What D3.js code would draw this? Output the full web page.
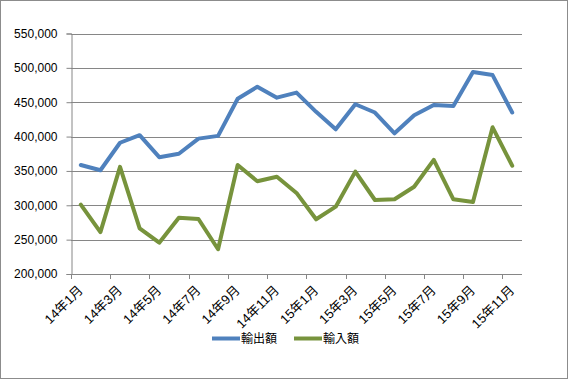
<!DOCTYPE html>
<html><head><meta charset="utf-8">
<script src="https://cdn.jsdelivr.net/npm/d3@7"></script>
<style>
html,body{margin:0;padding:0;background:#fff;}
svg{display:block;}
text{font-family:"Liberation Sans","Noto Sans CJK JP",sans-serif;fill:#000;}
</style></head>
<body>
<svg id="c" width="568" height="379"></svg>
<script>
const categories = ["14年1月","14年2月","14年3月","14年4月","14年5月","14年6月","14年7月","14年8月","14年9月","14年10月","14年11月","14年12月",
  "15年1月","15年2月","15年3月","15年4月","15年5月","15年6月","15年7月","15年8月","15年9月","15年10月","15年11月"];
const exportsVal = [358600,351000,391000,402000,370000,375000,397000,401000,455000,472500,456600,464000,
  436000,410500,447000,435000,404700,431000,446000,444500,494000,489500,435000];
const importsVal = [301000,261000,356000,266500,245500,282000,280000,236000,358600,335000,341600,318000,
  279600,298000,349000,307700,308700,327000,366000,308700,304800,413500,357600];
const yTicks = [200000,250000,300000,350000,400000,450000,500000,550000];
const seriesNames = ["輸出額","輸入額"];
const colors = ["#4F81BD","#77933C"];

const svg = d3.select("#c");
svg.append("rect").attr("x",0.5).attr("y",0.5).attr("width",567).attr("height",378)
  .attr("fill","#fff").attr("stroke","#8c8c8c");

const x = d3.scaleBand().domain(categories).range([71,522]);
const y = d3.scaleLinear().domain([200000,550000]).range([274,33.5]);

// gridlines
svg.append("g").selectAll("line").data(yTicks.slice(1)).join("line")
  .attr("x1",71).attr("x2",522)
  .attr("y1",d=>Math.round(y(d))+0.5).attr("y2",d=>Math.round(y(d))+0.5)
  .attr("stroke","#868686").attr("stroke-width",1);

// y axis
const ya = svg.append("g").attr("transform","translate(71.5,0)")
  .call(d3.axisLeft(y).tickValues(yTicks).tickSize(5).tickPadding(9).tickFormat(d3.format(",")));
ya.select(".domain").attr("stroke","#868686");
ya.selectAll(".tick line").attr("stroke","#868686");
ya.selectAll(".tick text").attr("font-size","12px").attr("font-family","Liberation Sans, sans-serif").attr("fill","#000");

// x axis
const xg = svg.append("g");
xg.append("line").attr("x1",71).attr("x2",522).attr("y1",274.5).attr("y2",274.5).attr("stroke","#868686");
const tickIdx = categories.map((c,i)=>i).filter(i=>i%2===0);
xg.selectAll("line.t").data(tickIdx).join("line").attr("class","t")
  .attr("x1",i=>Math.round(x(categories[i]))+0.5).attr("x2",i=>Math.round(x(categories[i]))+0.5)
  .attr("y1",274).attr("y2",279).attr("stroke","#868686");
xg.selectAll("text").data(tickIdx).join("text")
  .attr("transform",i=>`translate(${x(categories[i])+x.bandwidth()/2+3},${291}) rotate(-45)`)
  .attr("text-anchor","end").attr("font-size","13px")
  .text(i=>categories[i]);

// lines
const line = d3.line().x((d,i)=>x(categories[i])+x.bandwidth()/2).y(d=>y(d));
[exportsVal,importsVal].forEach((s,k)=>{
  svg.append("path").datum(s).attr("d",line).attr("fill","none")
    .attr("stroke",colors[k]).attr("stroke-width",4).attr("stroke-linejoin","round").attr("stroke-linecap","round");
});

// legend
const lg = svg.append("g");
const lx = [212,294];
seriesNames.forEach((n,k)=>{
  lg.append("line").attr("x1",lx[k]).attr("x2",lx[k]+28).attr("y1",338.5).attr("y2",338.5)
    .attr("stroke",colors[k]).attr("stroke-width",4);
  lg.append("text").attr("x",lx[k]+29).attr("y",343).attr("font-size","12px").text(n);
});
</script>
</body></html>
